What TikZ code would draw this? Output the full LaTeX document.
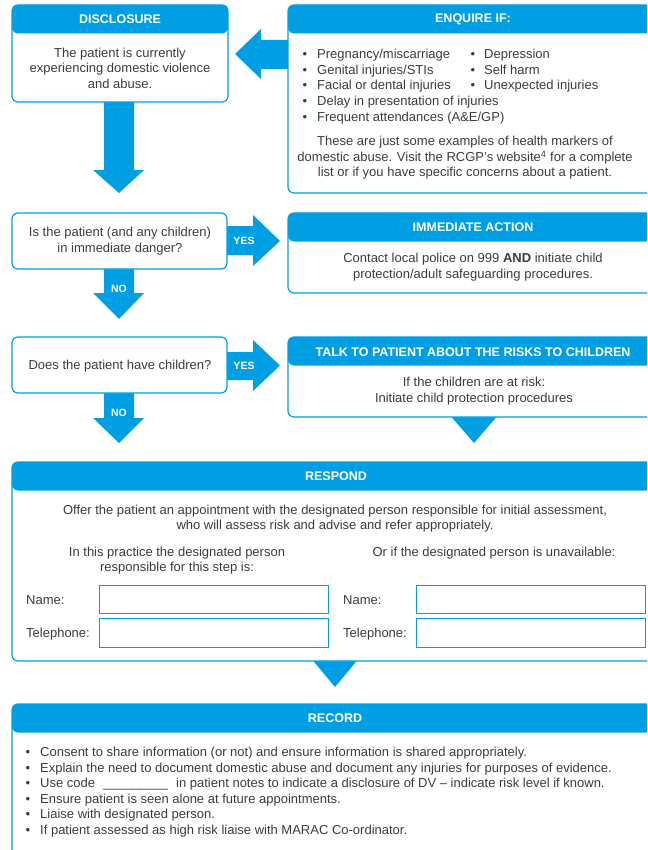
\documentclass[tikz,border=0pt]{standalone}
\usepackage{fontspec}
\setmainfont{Liberation Sans}
\definecolor{bl}{HTML}{009FE3}
\definecolor{tx}{HTML}{3C3C3C}
\newcommand\bodyfont{\fontsize{13}{15.6}\selectfont}
\begin{document}
\begin{tikzpicture}[x=1pt,y=-1pt,
  hbox/.style={draw=bl, line width=1.2pt, fill=white, rounded corners=6pt, inner sep=0pt, outer sep=0pt, anchor=north west,
    path picture={\fill[bl] (path picture bounding box.north west) rectangle ([yshift=-28.5pt]path picture bounding box.north east);}},
  qbox/.style={draw=bl, line width=1.2pt, fill=white, rounded corners=6pt, inner sep=0pt, outer sep=0pt, anchor=north west},
  field/.style={draw=bl, line width=1pt, fill=white, inner sep=0pt, outer sep=0pt, anchor=north west},
  hd/.style={text=white, font=\fontsize{12.5}{15}\selectfont\bfseries, inner sep=0pt},
  bd/.style={text=tx, font=\bodyfont, align=center, inner sep=0pt},
  li/.style={text=tx, font=\bodyfont, anchor=base west, inner sep=0pt},
  dot/.style={text=tx, font=\bodyfont, anchor=base, inner sep=0pt},
  lab/.style={text=white, font=\fontsize{10.5}{12}\selectfont\bfseries, inner sep=0pt},
  arr/.style={fill=bl}]
\useasboundingbox (0,0) rectangle (647,850);
\clip (0,0) rectangle (647,850);
% block arrows
\fill[arr] (104,98) -- (134,98) -- (134,170) -- (144,170) -- (119,193) -- (93,170) -- (104,170) -- cycle;
\fill[arr] (292,40) -- (261,40) -- (261,29) -- (235,54) -- (261,79) -- (261,69) -- (292,69) -- cycle;
\fill[arr] (222,226) -- (253,226) -- (253,215) -- (280,241) -- (253,266) -- (253,255) -- (222,255) -- cycle;
\fill[arr] (104,265) -- (134,265) -- (134,293) -- (144,293) -- (119,319) -- (93,293) -- (104,293) -- cycle;
\fill[arr] (222,352) -- (253,352) -- (253,340) -- (280,365.5) -- (253,391) -- (253,380) -- (222,380) -- cycle;
\fill[arr] (104,389) -- (134,389) -- (134,418) -- (144,418) -- (119,443) -- (93,418) -- (104,418) -- cycle;
\fill[arr] (448,413) -- (500,413) -- (474,443) -- cycle;
\fill[arr] (310,657) -- (360,657) -- (335,687) -- cycle;
% boxes
\node[hbox, minimum width=216pt, minimum height=97pt] (disc) at (12,5) {};
\node[hbox, minimum width=364pt, minimum height=188pt] (enq) at (288,5) {};
\node[qbox, minimum width=215pt, minimum height=56pt] (q1) at (12,213) {};
\node[hbox, minimum width=364pt, minimum height=80pt] (imm) at (288,213) {};
\node[qbox, minimum width=215pt, minimum height=56pt] (q2) at (12,337) {};
\node[hbox, minimum width=364pt, minimum height=80pt] (talk) at (288,337) {};
\node[hbox, minimum width=640pt, minimum height=199pt] (resp) at (12,462) {};
\node[hbox, minimum width=640pt, minimum height=170pt] (rec) at (12,704) {};
% arrow labels
\node[lab] (yes1) at (244,241) {YES};
\node[lab] (no1) at (119,289) {NO};
\node[lab] (yes2) at (244,366) {YES};
\node[lab] (no2) at (119,413) {NO};
% headers
\node[hd] (hdisc) at (120,19) {DISCLOSURE};
\node[hd] (henq) at (473,19) {ENQUIRE IF:};
\node[hd] (himm) at (473,227) {IMMEDIATE ACTION};
\node[hd] (htalk) at (473,352) {TALK TO PATIENT ABOUT THE RISKS TO CHILDREN};
\node[hd] (hresp) at (336,476) {RESPOND};
\node[hd] (hrec) at (335,718) {RECORD};
% bodies
\node[bd] (tdisc) at (120,68) {The patient is currently\\experiencing domestic violence\\and abuse.};
\node[bd] (tq1) at (120,241) {Is the patient (and any children)\\in immediate danger?};
\node[bd] (tq2) at (120,366) {Does the patient have children?};
\node[bd] (timm) at (473,267) {Contact local police on 999 \textbf{AND} initiate child\\protection/adult safeguarding procedures.};
\node[bd] (ttalk) at (474,391) {If the children are at risk:\\Initiate child protection procedures};
% enquire list
\node[dot] (e1b) at (305,58.5) {\textbullet}; \node[li] (e1) at (317,58.5) {Pregnancy/miscarriage};
\node[dot] (e2b) at (305,74.2) {\textbullet}; \node[li] (e2) at (317,74.2) {Genital injuries/STIs};
\node[dot] (e3b) at (305,89.9) {\textbullet}; \node[li] (e3) at (317,89.9) {Facial or dental injuries};
\node[dot] (e4b) at (305,105.6) {\textbullet}; \node[li] (e4) at (317,105.6) {Delay in presentation of injuries};
\node[dot] (e5b) at (305,121.3) {\textbullet}; \node[li] (e5) at (317,121.3) {Frequent attendances (A\&E/GP)};
\node[dot] (e6b) at (473,58.5) {\textbullet}; \node[li] (e6) at (484,58.5) {Depression};
\node[dot] (e7b) at (473,74.2) {\textbullet}; \node[li] (e7) at (484,74.2) {Self harm};
\node[dot] (e8b) at (473,89.9) {\textbullet}; \node[li] (e8) at (484,89.9) {Unexpected injuries};
\node[bd] (epar) at (465,158) {These are just some examples of health markers of\\domestic abuse. Visit the RCGP's website\textsuperscript{4} for a complete\\list or if you have specific concerns about a patient.};
% respond
\node[bd] (roffer) at (335,518.5) {Offer the patient an appointment with the designated person responsible for initial assessment,\\who will assess risk and advise and refer appropriately.};
\node[bd] (rprac) at (177,560.5) {In this practice the designated person\\responsible for this step is:};
\node[bd] (ralt) at (494,553) {Or if the designated person is unavailable:};
\node[li] (ln1) at (26,604.5) {Name:};
\node[li] (lt1) at (26,637.5) {Telephone:};
\node[li] (ln2) at (343,604.5) {Name:};
\node[li] (lt2) at (343,637.5) {Telephone:};
\node[field, minimum width=229pt, minimum height=28pt] (fn1) at (99,585) {};
\node[field, minimum width=229pt, minimum height=29pt] (ft1) at (99,618) {};
\node[field, minimum width=229pt, minimum height=28pt] (fn2) at (416,585) {};
\node[field, minimum width=229pt, minimum height=29pt] (ft2) at (416,618) {};
% record list
\node[dot] (r1b) at (28,756.5) {\textbullet}; \node[li] (r1) at (40,756.5) {Consent to share information (or not) and ensure information is shared appropriately.};
\node[dot] (r2b) at (28,772.1) {\textbullet}; \node[li] (r2) at (40,772.1) {Explain the need to document domestic abuse and document any injuries for purposes of evidence.};
\node[dot] (r3b) at (28,787.7) {\textbullet}; \node[li] (r3) at (40,787.7) {Use code\hspace{8pt}\_\_\_\_\_\_\_\_\_\hspace{8pt}in patient notes to indicate a disclosure of DV -- indicate risk level if known.};
\node[dot] (r4b) at (28,803.3) {\textbullet}; \node[li] (r4) at (40,803.3) {Ensure patient is seen alone at future appointments.};
\node[dot] (r5b) at (28,818.9) {\textbullet}; \node[li] (r5) at (40,818.9) {Liaise with designated person.};
\node[dot] (r6b) at (28,834.5) {\textbullet}; \node[li] (r6) at (40,834.5) {If patient assessed as high risk liaise with MARAC Co-ordinator.};
\end{tikzpicture}
\end{document}
